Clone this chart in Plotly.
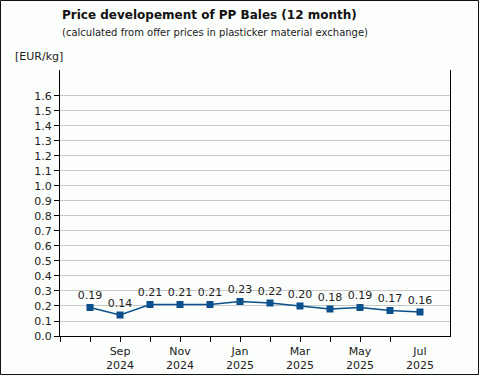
import plotly.graph_objects as go

months = ["Aug 2024", "Sep 2024", "Oct 2024", "Nov 2024", "Dec 2024", "Jan 2025",
          "Feb 2025", "Mar 2025", "Apr 2025", "May 2025", "Jun 2025", "Jul 2025"]
prices = [0.19, 0.14, 0.21, 0.21, 0.21, 0.23, 0.22, 0.20, 0.18, 0.19, 0.17, 0.16]
label_months = ["Sep 2024", "Nov 2024", "Jan 2025", "Mar 2025", "May 2025", "Jul 2025"]
y_ticks = [round(i * 0.1, 1) for i in range(17)]

pos = list(range(1, len(months) + 1))
label_pos = [months.index(m) + 1 for m in label_months]
label_text = [m.replace(" ", "<br>") for m in label_months]

FONT = "DejaVu Sans, Verdana, sans-serif"
BLUE = "#0b4f8c"

fig = go.Figure()
fig.add_trace(go.Scatter(
    x=pos, y=prices, mode="lines+markers+text",
    line=dict(color=BLUE, width=1.5),
    marker=dict(symbol="square", size=7, color=BLUE),
    text=[f"{p:.2f}" for p in prices], textposition="top center",
    textfont=dict(family=FONT, size=11, color="#222"),
    cliponaxis=False, hoverinfo="skip", showlegend=False,
))
fig.add_trace(go.Scatter(x=[], y=[], xaxis="x2", showlegend=False, hoverinfo="skip"))

L, R, T, B = 60, 30, 70, 40
W, H = 480, 376
pw, ph = W - L - R, H - T - B

fig.update_layout(
    width=W, height=H,
    margin=dict(l=L, r=R, t=T, b=B),
    paper_bgcolor="#fcfefc", plot_bgcolor="#fcfefc",
    font=dict(family=FONT, size=11, color="#222"),
    xaxis=dict(
        range=[0, 13], tickmode="array", tickvals=list(range(0, 12)),
        ticktext=[""] * 12, ticks="outside", ticklen=5, tickcolor="#000",
        showline=True, linecolor="#000", linewidth=1, showgrid=False, zeroline=False,
        automargin=False,
    ),
    xaxis2=dict(
        range=[0, 13], overlaying="x", anchor="y", side="bottom",
        tickmode="array", tickvals=label_pos, ticktext=label_text, ticks="",
        ticklabelstandoff=7, automargin=False,
        showline=False, showgrid=False, zeroline=False,
        tickfont=dict(family=FONT, size=11, color="#222"),
    ),
    yaxis=dict(
        range=[0, 1.773], tickmode="array", tickvals=y_ticks,
        ticktext=[f"{v:.1f}" for v in y_ticks],
        ticks="outside", ticklen=5, tickcolor="#000", automargin=False,
        showline=True, mirror=True, linecolor="#000", linewidth=1,
        showgrid=True, gridcolor="#c8c8c8", gridwidth=1, zeroline=False,
        tickfont=dict(family=FONT, size=11, color="#222"),
    ),
    annotations=[
        dict(text="<b>Price developement of PP Bales (12 month)</b>", xref="paper", yref="paper",
             x=0, y=(336 - 15) / ph, xanchor="left", yanchor="middle", showarrow=False,
             font=dict(family=FONT, size=12, color="#111")),
        dict(text="(calculated from offer prices in plasticker material exchange)", xref="paper", yref="paper",
             x=0, y=(336 - 33) / ph, xanchor="left", yanchor="middle", showarrow=False,
             font=dict(family=FONT, size=10, color="#222")),
        dict(text="[EUR/kg]", xref="paper", yref="paper",
             x=(13 - L) / pw, y=(336 - 57) / ph, xanchor="left", yanchor="middle", showarrow=False,
             font=dict(family=FONT, size=11, color="#222")),
    ],
    shapes=[dict(type="rect", xref="paper", yref="paper",
                 x0=(0.5 - L) / pw, x1=(478.5 - L) / pw,
                 y0=(336 - 374.5) / ph, y1=(336 - 0.5) / ph,
                 line=dict(color="#111", width=1), layer="above")],
)

fig.write_html("out.html", config={"displayModeBar": False, "staticPlot": True},
               post_script="document.body.style.margin='0';document.body.style.padding='0';")
